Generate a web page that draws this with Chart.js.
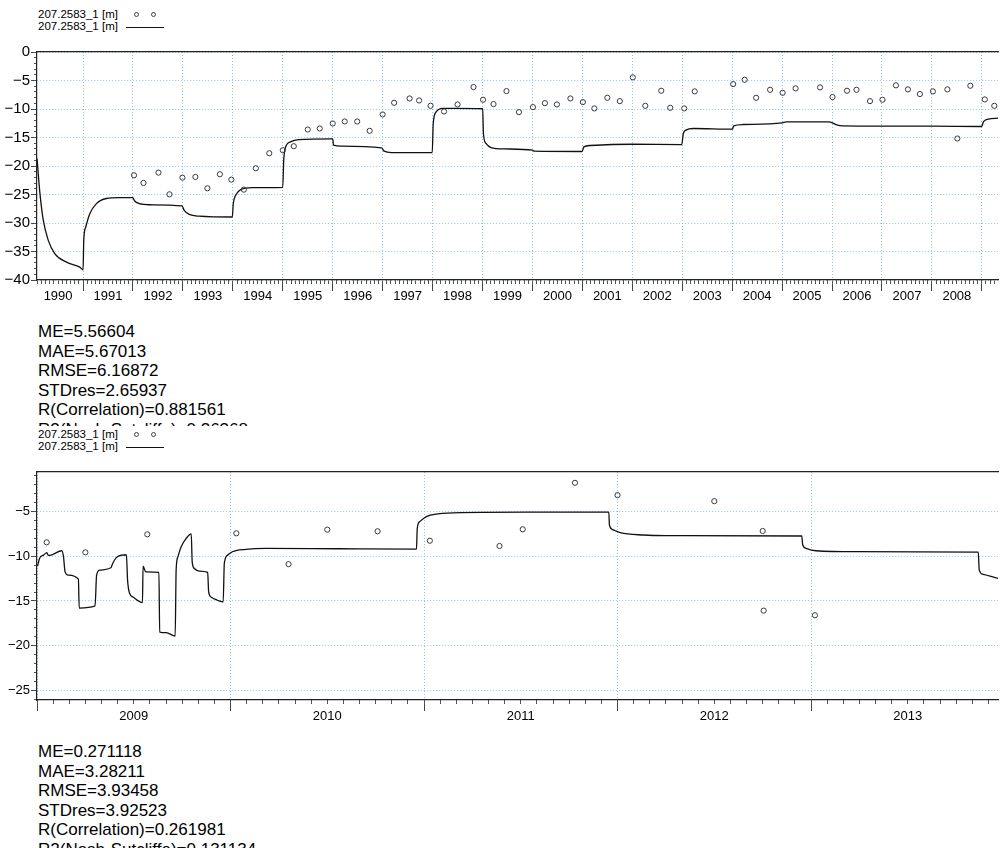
<!DOCTYPE html>
<html>
<head>
<meta charset="utf-8">
<script src="https://cdn.jsdelivr.net/npm/chart.js@4.4.1/dist/chart.umd.min.js"></script>
<style>
  html, body { margin: 0; padding: 0; background: #fff; }
  body { width: 1003px; height: 848px; overflow: hidden; position: relative;
         font-family: "Liberation Sans", Arial, sans-serif; color: #000; }
  .panel { position: absolute; left: 0; width: 1003px; height: 422px; background: #fff; }
  .legend { position: absolute; left: 38px; top: 3px; font-size: 11.5px; line-height: 11.5px; }
  .legend .row { position: relative; height: 11.5px; white-space: nowrap; }
  .legend .dot { position: absolute; top: 3px; width: 3px; height: 3px;
                 border: 1px solid #444; border-radius: 50%; }
  .legend .seg { position: absolute; top: 6px; height: 0; border-top: 1px solid #111; }
  .panel canvas { position: absolute; left: 0; top: 0; }
  .stats { position: absolute; left: 38px; top: 316px; font-size: 17px; line-height: 19.5px; white-space: nowrap; }
</style>
</head>
<body>
<div class="panel" id="panelA" style="top:6px">
  <div class="legend">
    <div class="row"><span class="name"></span><span class="dot" style="left:96px"></span><span class="dot" style="left:113px"></span></div>
    <div class="row"><span class="name"></span><span class="seg" style="left:88px;width:38px"></span></div>
  </div>
  <canvas id="chartA" width="1003" height="304"></canvas>
  <div class="stats" id="statsA"></div>
</div>
<div class="panel" id="panelB" style="top:426px">
  <div class="legend">
    <div class="row"><span class="name"></span><span class="dot" style="left:96px"></span><span class="dot" style="left:113px"></span></div>
    <div class="row"><span class="name"></span><span class="seg" style="left:88px;width:38px"></span></div>
  </div>
  <canvas id="chartB" width="1003" height="304"></canvas>
  <div class="stats" id="statsB"></div>
</div>
<script>
// Series name shown in both legends
const seriesName = '207.2583_1 [m]';

// ---- Upper panel: 1990 - 2009 ----
const yearLabelsA = ['1990','1991','1992','1993','1994','1995','1996','1997','1998','1999',
                     '2000','2001','2002','2003','2004','2005','2006','2007','2008'];
const obsYearsA = [1992.02,1992.21,1992.51,1992.73,1992.99,1993.25,1993.49,1993.74,1993.97,1994.22,
                   1994.46,1994.73,1995.00,1995.22,1995.50,1995.74,1996.00,1996.24,1996.49,1996.74,
                   1997.00,1997.23,1997.54,1997.73,1997.96,1998.23,1998.50,1998.82,1999.01,1999.22,
                   1999.48,1999.73,2000.01,2000.25,2000.49,2000.76,2001.01,2001.24,2001.50,2001.75,
                   2002.01,2002.26,2002.58,2002.76,2003.04,2003.25,2004.02,2004.25,2004.48,2004.76,
                   2005.01,2005.27,2005.76,2006.01,2006.30,2006.49,2006.76,2007.01,2007.28,2007.52,
                   2007.76,2008.02,2008.31,2008.51,2008.77,2009.06,2009.25];
const obsLevelsA = [-21.63,-22.97,-21.16,-24.97,-22.04,-21.92,-23.91,-21.45,-22.39,-24.15,
                    -20.40,-17.76,-17.23,-16.53,-13.60,-13.42,-12.54,-12.19,-12.19,-13.83,
                    -10.96,-8.91,-8.15,-8.50,-9.44,-10.43,-9.20,-6.15,-8.38,-9.14,
                    -6.86,-10.55,-9.67,-8.97,-9.20,-8.15,-8.79,-9.90,-8.03,-8.62,
                    -4.45,-9.44,-6.80,-9.79,-9.90,-6.91,-5.63,-4.87,-8.03,-6.63,
                    -7.16,-6.38,-6.21,-7.91,-6.80,-6.63,-8.62,-8.38,-5.85,-6.56,
                    -7.38,-6.91,-6.56,-15.18,-5.92,-8.32,-9.44];
const simYearsA = [1990.078,1990.137,1990.203,1990.303,1990.436,1990.669,1990.934,1991.000,1991.014,1991.054,
                   1991.133,1991.267,1991.466,1991.731,1991.996,1992.030,1992.130,1992.329,1992.981,1993.026,
                   1993.126,1993.325,1993.989,1994.009,1994.056,1994.156,1994.387,1994.999,1995.019,1995.053,
                   1995.152,1995.318,1995.981,1996.001,1996.015,1996.180,1996.977,1997.031,1997.177,1997.993,
                   1998.013,1998.073,1998.207,1998.440,1999.004,1999.018,1999.069,1999.169,1999.436,2000.000,
                   2000.034,2000.996,2001.030,2001.161,2001.992,2002.989,2003.022,2003.074,2003.222,2004.005,
                   2004.031,2004.218,2005.001,2005.081,2005.943,2006.111,2006.211,2007.007,2008.003,2008.965,
                   2008.999,2009.031,2009.130,2009.324,2009.400];
const simLevelsA = [-18.7,-24.85,-29.5,-33.05,-35.4,-36.87,-37.75,-38.2,-33.0,-30.7,
                    -28.4,-26.6,-25.7,-25.55,-25.55,-26.1,-26.6,-26.8,-27.0,-27.8,
                    -28.5,-28.8,-28.95,-26.6,-25.14,-24.15,-23.8,-23.74,-19.0,-16.76,
                    -15.77,-15.36,-15.24,-15.24,-16.35,-16.53,-16.82,-17.4,-17.64,-17.64,
                    -12.54,-10.5,-9.9,-9.9,-9.96,-14.3,-16.05,-16.76,-17.0,-17.23,
                    -17.4,-17.46,-16.65,-16.4,-16.18,-16.24,-14.3,-13.7,-13.42,-13.54,
                    -12.95,-12.72,-12.42,-12.25,-12.25,-12.84,-12.95,-13.0,-13.0,-13.07,
                    -13.07,-12.25,-11.78,-11.6,-11.55];
const statsA = ['ME=5.56604','MAE=5.67013','RMSE=6.16872','STDres=2.65937',
                'R(Correlation)=0.881561','R2(Nash-Sutcliffe)=0.36368'];

// ---- Lower panel: 2009 - 2013 ----
const yearLabelsB = ['2009','2010','2011','2012','2013'];
const obsYearsB = [2009.05,2009.25,2009.57,2010.03,2010.30,2010.50,2010.76,2011.03,
                   2011.39,2011.51,2011.78,2012.00,2012.50,2012.75,2012.755,2013.02];
const obsLevelsB = [-8.44,-9.56,-7.54,-7.43,-10.88,-7.02,-7.20,-8.26,
                    -8.85,-6.98,-1.78,-3.16,-3.83,-7.17,-16.08,-16.60];
const simYearsB = [2009.003,2009.013,2009.034,2009.051,2009.058,2009.077,2009.128,2009.137,2009.145,2009.162,
                   2009.214,2009.218,2009.300,2009.308,2009.325,2009.382,2009.391,2009.411,2009.437,2009.462,
                   2009.468,2009.479,2009.496,2009.545,2009.548,2009.562,2009.630,2009.634,2009.668,2009.714,
                   2009.719,2009.728,2009.745,2009.771,2009.797,2009.802,2009.813,2009.839,2009.882,2009.887,
                   2009.899,2009.933,2009.962,2009.968,2009.985,2010.010,2010.079,2010.182,2010.559,2010.961,
                   2010.965,2010.978,2011.012,2011.072,2011.192,2011.535,2011.955,2011.958,2011.972,2012.014,
                   2012.135,2012.254,2012.952,2012.957,2012.974,2013.025,2013.231,2013.864,2013.869,2013.890,
                   2013.966,2013.990];
const simLevelsB = [-11.1,-10.24,-9.87,-9.6,-9.9,-9.83,-9.38,-10.06,-11.74,-12.11,
                    -12.56,-15.79,-15.56,-12.11,-11.55,-11.29,-10.8,-10.12,-9.87,-9.83,
                    -12.67,-14.17,-14.55,-15.18,-11.1,-11.74,-11.81,-18.48,-18.55,-18.93,
                    -11.55,-10.06,-8.93,-7.99,-7.5,-10.62,-11.36,-11.66,-11.81,-13.99,
                    -14.55,-14.92,-15.11,-10.8,-9.87,-9.49,-9.22,-9.11,-9.16,-9.2,
                    -6.87,-6.12,-5.56,-5.26,-5.11,-5.07,-5.07,-6.49,-6.98,-7.36,
                    -7.62,-7.68,-7.73,-8.74,-9.11,-9.38,-9.49,-9.53,-11.55,-12.03,
                    -12.48,-12.6];
const statsB = ['ME=0.271118','MAE=3.28211','RMSE=3.93458','STDres=3.92523',
                'R(Correlation)=0.261981','R2(Nash-Sutcliffe)=0.131134'];

// Visible axis windows
const rangeA = { xMin: 1990.0775, xMax: 2009.324, yMin: -40, yMax: 0 };
const rangeB = { xMin: 2009.0, xMax: 2013.966, yMin: -26.08, yMax: -0.57 };

Chart.defaults.font.family = '"Liberation Sans", Arial, sans-serif';
Chart.defaults.color = '#000';

const GRID = '#8fc3eb';
const AXIS = '#222';
const TICK = '#444';
const NONE = 'rgba(0,0,0,0)';

function buildChart(canvas, yearLabels, simX, simY, obsX, obsY, r, yFontSize) {
  const inside = v => v >= r.xMin - 1e-9 && v <= r.xMax + 1e-9;
  const years = yearLabels.map(Number);
  const labelAt = new Map(years.map((y, i) => [y + 0.5, yearLabels[i]]));
  const bounds = years.concat([years[years.length - 1] + 1]).filter(inside);
  const majorX = bounds.concat([...labelAt.keys()].filter(inside)).sort((a, b) => a - b);
  const isBound = v => Number.isInteger(v);
  const minorX = [];
  for (let y = Math.floor(r.xMin); y <= Math.ceil(r.xMax); y++) {
    for (let m = 0; m < 12; m++) { const v = y + m / 12; if (inside(v)) minorX.push(v); }
  }
  const majorY = [];
  for (let v = Math.ceil(r.yMin / 5) * 5; v <= r.yMax; v += 5) majorY.push(v);
  const minorY = [];
  for (let v = Math.ceil(r.yMin); v <= r.yMax; v++) minorY.push(v);
  const useTicks = list => scale => { scale.ticks = list.map(value => ({ value })); };

  return new Chart(canvas, {
    type: 'line',
    data: {
      datasets: [
        { label: seriesName, data: obsX.map((x, i) => ({ x, y: obsY[i] })),
          showLine: false, pointStyle: 'circle', pointRadius: 2.6, pointBorderWidth: 1,
          pointBorderColor: '#3a3a3a', pointBackgroundColor: NONE,
          xAxisID: 'x', yAxisID: 'y' },
        { label: seriesName, data: simX.map((x, i) => ({ x, y: simY[i] })),
          borderColor: '#111', borderWidth: 1.3, pointRadius: 0, fill: false,
          cubicInterpolationMode: 'monotone', xAxisID: 'x', yAxisID: 'y' }
      ]
    },
    options: {
      responsive: false, animation: false, devicePixelRatio: 1,
      layout: { padding: { top: 46, left: 0, right: 0, bottom: 0 } },
      plugins: { legend: { display: false }, tooltip: { enabled: false } },
      scales: {
        x: {
          type: 'linear', axis: 'x', position: 'bottom', min: r.xMin, max: r.xMax,
          afterBuildTicks: useTicks(majorX),
          afterFit: s => { s.height = 30; },
          ticks: { autoSkip: false, maxRotation: 0, minRotation: 0, padding: -1,
                   font: { size: 13, lineHeight: 1 },
                   callback: v => labelAt.get(v) || '' },
          grid: { color: c => isBound(c.tick.value) ? GRID : NONE,
                  lineWidth: 1, tickLength: 11,
                  tickColor: c => isBound(c.tick.value) ? TICK : NONE,
                  tickBorderDash: [], tickWidth: 1 },
          border: { color: AXIS, width: 1.2, dash: [1, 2] }
        },
        xm: {
          type: 'linear', axis: 'x', position: { y: r.yMin }, min: r.xMin, max: r.xMax,
          afterBuildTicks: useTicks(minorX),
          ticks: { display: false },
          grid: { drawOnChartArea: false, tickLength: 4, tickColor: '#555', tickWidth: 1 },
          border: { display: false }
        },
        xt: {
          type: 'linear', axis: 'x', position: 'top', min: r.xMin, max: r.xMax,
          afterFit: s => { s.height = 0; },
          ticks: { display: false },
          grid: { display: false, drawTicks: false },
          border: { color: AXIS, width: 1.2 }
        },
        y: {
          type: 'linear', axis: 'y', position: 'left', min: r.yMin, max: r.yMax,
          afterBuildTicks: useTicks(majorY),
          afterFit: s => { s.width = 37; },
          ticks: { autoSkip: false, padding: 1, font: { size: yFontSize },
                   callback: v => String(v).replace('-', '\u2212') },
          grid: { color: GRID, lineWidth: 1, tickLength: 6,
                  tickColor: TICK, tickBorderDash: [], tickWidth: 1 },
          border: { color: AXIS, width: 1.2, dash: [1, 2] }
        },
        ym: {
          type: 'linear', axis: 'y', position: { x: r.xMin }, min: r.yMin, max: r.yMax,
          afterBuildTicks: useTicks(minorY),
          ticks: { display: false },
          grid: { drawOnChartArea: false, tickLength: 3, tickColor: '#555', tickWidth: 1 },
          border: { display: false }
        }
      }
    }
  });
}

document.querySelectorAll('.legend .name').forEach(el => { el.textContent = seriesName; });
document.getElementById('statsA').innerHTML = statsA.map(s => '<div>' + s + '</div>').join('');
document.getElementById('statsB').innerHTML = statsB.map(s => '<div>' + s + '</div>').join('');

buildChart(document.getElementById('chartA'), yearLabelsA, simYearsA, simLevelsA, obsYearsA, obsLevelsA, rangeA, 15);
buildChart(document.getElementById('chartB'), yearLabelsB, simYearsB, simLevelsB, obsYearsB, obsLevelsB, rangeB, 13);
</script>
</body>
</html>
